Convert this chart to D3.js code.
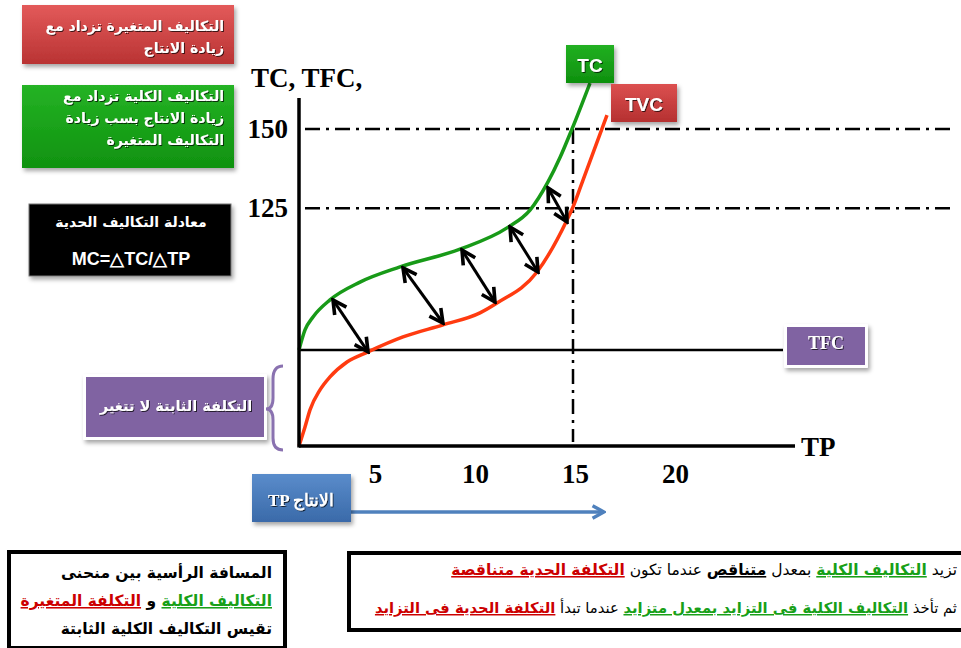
<!DOCTYPE html>
<html><head><meta charset="utf-8">
<script src="https://cdn.jsdelivr.net/npm/d3@7"></script>
<style>body{margin:0;background:#fff;overflow:hidden} svg{display:block}</style>
</head><body>
<svg id="c" width="961" height="648"></svg>
<script>
// ---- data ----
const xTicks = [5, 10, 15, 20];
const yTicks = [125, 150];
const tcX  = [1.3, 1.6, 2.0, 2.85, 4.35, 6.35, 9.35, 11.7, 12.85, 13.75, 14.35, 14.95, 15.85];
const tcY  = [80.3, 86.6, 90.7, 96.1, 101.7, 106.5, 112.1, 118.8, 124.4, 133.3, 141.0, 150.0, 164.5];
const tvcX = [1.3, 1.6, 1.85, 2.35, 2.85, 3.7, 4.75, 6.5, 8.5, 10.35, 11.2, 13.2, 14.7, 15.0, 15.5, 16.7];
const tvcY = [50, 56, 61.4, 67.7, 71.8, 76.5, 79.7, 84.4, 88.2, 92.0, 95.1, 104.9, 121.3, 125.4, 133.9, 154.4];
const tfcValue = 80.3;
const refX = 15;
const refY = [125, 150];
const arrowTopX = [3.0, 6.5, 9.45, 11.85, 13.75];
const arrowTopY = [96.1, 106.2, 111.8, 119.1, 131.4];
const arrowBotX = [4.75, 8.5, 11.1, 13.25, 14.7];
const arrowBotY = [79.7, 88.8, 95.4, 104.9, 120.7];

const svg = d3.select("#c");
const defs = svg.append("defs");
const x = d3.scaleLinear().domain([1.3, 26.1]).range([299, 795]);
const y = d3.scaleLinear().domain([50, 150]).range([446, 129]);

// filters
const f1 = defs.append("filter").attr("id","sh").attr("x","-20%").attr("y","-20%").attr("width","150%").attr("height","160%");
f1.append("feDropShadow").attr("dx",2).attr("dy",3).attr("stdDeviation",2).attr("flood-color","#000").attr("flood-opacity",0.35);
const f2 = defs.append("filter").attr("id","ts").attr("x","-10%").attr("y","-30%").attr("width","130%").attr("height","170%");
f2.append("feDropShadow").attr("dx",1).attr("dy",1).attr("stdDeviation",0.6).attr("flood-color","#000").attr("flood-opacity",0.7);

function grad(id, c1, c2){
  const g = defs.append("linearGradient").attr("id",id).attr("x1",0).attr("y1",0).attr("x2",0).attr("y2",1);
  g.append("stop").attr("offset","0%").attr("stop-color",c1);
  g.append("stop").attr("offset","100%").attr("stop-color",c2);
}
grad("gRed","#e35a5a","#b93333");
grad("gGreen","#25b325","#0f920f");
grad("gBlue","#5a8ccb","#3a6aa9");
grad("gTC","#22b022","#0e900e");
grad("gTVC","#dc5050","#b53030");

// markers
const mk = defs.append("marker").attr("id","ah").attr("viewBox","0 0 14 14")
  .attr("refX",12).attr("refY",7).attr("markerWidth",18).attr("markerHeight",18)
  .attr("markerUnits","userSpaceOnUse").attr("orient","auto-start-reverse");
mk.append("path").attr("d","M1.5,1.5 L12,7 L1.5,12.5").attr("fill","none").attr("stroke","#000").attr("stroke-width",2.8).attr("stroke-linejoin","miter");
const mb = defs.append("marker").attr("id","bh").attr("viewBox","0 0 14 14")
  .attr("refX",12).attr("refY",7).attr("markerWidth",16).attr("markerHeight",16)
  .attr("markerUnits","userSpaceOnUse").attr("orient","auto");
mb.append("path").attr("d","M2,1.5 L12,7 L2,12.5").attr("fill","none").attr("stroke","#4f81bd").attr("stroke-width",3);

const AR = "'DejaVu Sans', 'Noto Sans', sans-serif";
const SERIF = "'Liberation Serif', 'Times New Roman', serif";
const SANS = "'Liberation Sans', Arial, sans-serif";

// ---- reference dash-dot lines ----
const dd = "15,6,3,6";
refY.forEach(v => {
  svg.append("line").attr("x1",305).attr("x2",955).attr("y1",y(v)).attr("y2",y(v))
    .attr("stroke","#000").attr("stroke-width",2.5).attr("stroke-dasharray",dd);
});
svg.append("line").attr("x1",x(refX)).attr("x2",x(refX)).attr("y1",y(150)).attr("y2",y(50)-4)
  .attr("stroke","#000").attr("stroke-width",2.5).attr("stroke-dasharray",dd);

// TFC line
svg.append("line").attr("x1",x(1.3)).attr("x2",783).attr("y1",y(tfcValue)).attr("y2",y(tfcValue))
  .attr("stroke","#000").attr("stroke-width",2.5);

// curves
const line = d3.line().x(d=>x(d[0])).y(d=>y(d[1])).curve(d3.curveMonotoneX);
svg.append("path").attr("d", line(d3.zip(tvcX,tvcY))).attr("fill","none").attr("stroke","#ff3b10").attr("stroke-width",3.5);
svg.append("path").attr("d", line(d3.zip(tcX,tcY))).attr("fill","none").attr("stroke","#189a18").attr("stroke-width",3.5);

// arrows
arrowTopX.forEach((v,i)=>{
  svg.append("line").attr("x1",x(v)).attr("y1",y(arrowTopY[i])).attr("x2",x(arrowBotX[i])).attr("y2",y(arrowBotY[i]))
    .attr("stroke","#000").attr("stroke-width",3).attr("marker-start","url(#ah)").attr("marker-end","url(#ah)");
});

// axes lines
svg.append("line").attr("x1",299).attr("x2",299).attr("y1",y(159.8)).attr("y2",y(50)+1.5).attr("stroke","#000").attr("stroke-width",3.5);
svg.append("line").attr("x1",299).attr("x2",795).attr("y1",y(50)).attr("y2",y(50)).attr("stroke","#000").attr("stroke-width",3.5);

// axis labels via d3 axes
const gy = svg.append("g").attr("transform","translate(299,0)")
  .call(d3.axisLeft(y).tickValues(yTicks).tickSize(0).tickPadding(11));
gy.select(".domain").remove();
gy.selectAll("text").attr("font-family",SERIF).attr("font-weight","bold").attr("font-size",27).attr("fill","#000");
const gx = svg.append("g").attr("transform",`translate(2,${y(50)})`)
  .call(d3.axisBottom(x).tickValues(xTicks).tickSize(0).tickPadding(18));
gx.select(".domain").remove();
gx.selectAll("text").attr("font-family",SERIF).attr("font-weight","bold").attr("font-size",27).attr("fill","#000");

svg.append("text").attr("x",251).attr("y",87).text("TC, TFC,")
  .attr("font-family",SERIF).attr("font-weight","bold").attr("font-size",27);
svg.append("text").attr("x",801).attr("y",456).text("TP")
  .attr("font-family",SERIF).attr("font-weight","bold").attr("font-size",27);

// ---- boxes ----
function box(xx,yy,w,h,fill,opt={}){
  const g = svg.append("g").attr("filter","url(#sh)");
  if(opt.border){
    g.append("rect").attr("x",xx-3).attr("y",yy-3).attr("width",w+6).attr("height",h+6).attr("fill","#fff").attr("rx",1);
  }
  g.append("rect").attr("x",xx).attr("y",yy).attr("width",w).attr("height",h).attr("fill",fill)
    .attr("stroke",opt.stroke||"none").attr("stroke-width",1);
}
function label(xx,yy,txt,size,anchor,fam,shadow=true){
  return svg.append("text").attr("x",xx).attr("y",yy).attr("text-anchor",anchor)
    .attr("dominant-baseline","central").attr("font-family",fam).attr("font-weight","bold")
    .attr("font-size",size).attr("fill","#fff").attr("filter",shadow?"url(#ts)":null).text(txt);
}

box(22,5,212,59,"url(#gRed)");
label(224,26,"التكاليف المتغيرة تزداد مع",14,"end",AR);
label(224,48,"زيادة الانتاج",14,"end",AR);

box(22,85,212,83,"url(#gGreen)");
label(224,96,"التكاليف الكلية تزداد مع",14,"end",AR);
label(224,118,"زيادة الانتاج بسب زيادة",14,"end",AR);
label(224,140,"التكاليف المتغيرة",14,"end",AR);

box(29,204,202,72,"#000",{stroke:"#777"});
label(131,222,"معادلة التكاليف الحدية",14,"middle",AR,false);
label(131,259,"MC=△TC/△TP",18,"middle",SANS,false);

box(86,377,178,60,"#8064a2",{border:true});
label(176,406,"التكلفة الثابتة لا تتغير",14.5,"middle",AR);

// brace
svg.append("path").attr("d","M283,366 Q273,366 273,379 L273,398 Q273,409 266,409 Q273,409 273,420 L273,438 Q273,450 283,450")
  .attr("fill","none").attr("stroke","#8a72b0").attr("stroke-width",3);

box(566,45,48,38,"url(#gTC)");
label(590,65,"TC",19,"middle",SANS);
box(611,84,66,38,"url(#gTVC)");
label(644,104,"TVC",19,"middle",SANS);

box(787,327,78,38,"#8064a2",{border:true});
label(826,343,"TFC",18,"middle",SERIF);

// production arrow
svg.append("line").attr("x1",351).attr("x2",604).attr("y1",512).attr("y2",512)
  .attr("stroke","#4f81bd").attr("stroke-width",3.5).attr("marker-end","url(#bh)");
box(252,474,99,48,"url(#gBlue)");
label(301,500,"TP الانتاج",17,"middle",SERIF);

// ---- bottom explanation boxes ----
svg.append("rect").attr("x",9).attr("y",552).attr("width",276).attr("height",96).attr("fill","none").attr("stroke","#000").attr("stroke-width",4);
function richLine(xx,yy,parts,size){
  const t = svg.append("text").attr("x",xx).attr("y",yy).attr("text-anchor","end")
    .attr("font-family",AR).attr("font-size",size);
  parts.forEach(p=>{
    t.append("tspan").text(p.t).attr("fill",p.c||"#000").attr("font-weight",p.b?"bold":"normal")
      .attr("text-decoration",p.u?"underline":null);
  });
  return t;
}
const G="#18a018", R="#cc0000";
richLine(272,578,[{t:"المسافة الرأسية بين منحنى",b:1}],15.5);
richLine(272,606,[{t:"التكاليف الكلية",b:1,c:G,u:1},{t:" و ",b:1},{t:"التكلفة  المتغيرة",b:1,c:R,u:1}],15.5);
richLine(272,634,[{t:"تقيس  التكاليف الكلية الثابتة",b:1}],15.5);

svg.append("rect").attr("x",349).attr("y",553).attr("width",640).attr("height",77).attr("fill","none").attr("stroke","#000").attr("stroke-width",4);
richLine(957,575,[{t:"تزيد "},{t:"التكاليف الكلية",b:1,c:G,u:1},{t:" بمعدل "},{t:"متناقص",b:1,u:1},{t:" عندما تكون "},{t:"التكلفة الحدية متناقصة",b:1,c:R,u:1}],15.5);
richLine(957,613,[{t:"ثم تأخذ "},{t:"التكاليف الكلية فى التزايد بمعدل متزايد",b:1,c:G,u:1},{t:" عندما تبدأ "},{t:"التكلفة الحدية فى التزايد",b:1,c:R,u:1}],14.8);
</script>
</body></html>
